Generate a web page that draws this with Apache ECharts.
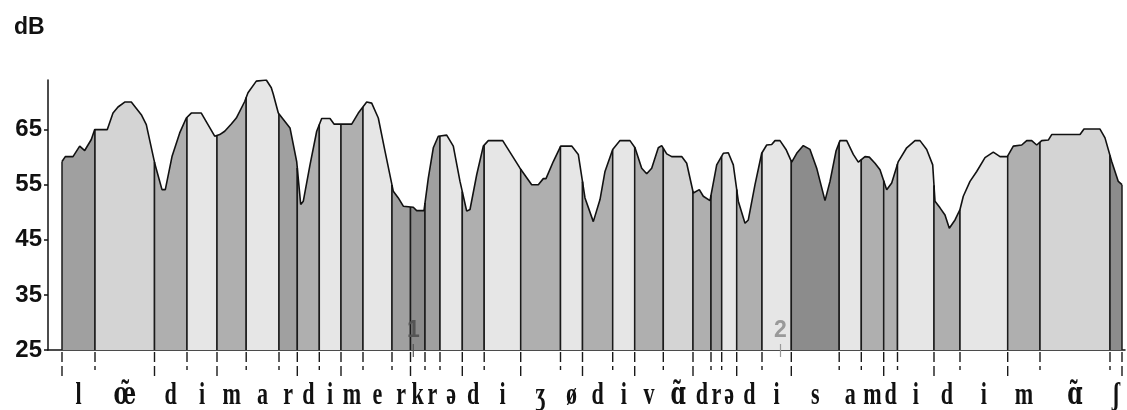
<!DOCTYPE html>
<html>
<head>
<meta charset="utf-8">
<script src="https://cdn.jsdelivr.net/npm/echarts@6/dist/echarts.min.js"></script>
<style>
html,body{margin:0;padding:0;background:#fff;}
#chart{width:1127px;height:410px;}
</style>
</head>
<body>
<div id="chart"></div>
<script>
// ---- DATA ----
// segment boundaries (time units)
const boundaries = [14, 47, 106.5, 139, 169, 198.2, 231, 249.3, 271.3, 293, 315, 344, 362.5, 377, 392,
  414.3, 436.2, 472.7, 512.5, 534.5, 564.7, 586.7, 615.3, 645, 663, 673.7, 688.7, 714, 743.3,
  791.2, 813.3, 835.7, 849.5, 886, 912, 959.7, 992, 1062, 1074];
// syllable-start boundaries (long ticks)
const syllableBounds = [14, 106.5, 169, 249.3, 293, 362.5, 414.3, 472.7, 534.5, 586.7, 645, 688.7,
  743.3, 835.7, 886, 959.7, 1074];
// phoneme labels, one per segment
const phonemes = ['l','œ̃','d','i','m','a','r','d','i','m','e','r','k','r','ə','d','i','ʒ','ø','d','i',
  'v','ɑ̃','d','r','ə','d','i','s','a','m','d','i','d','i','m','ɑ̃','ʃ'];
// phoneme class per segment (selects shade)
const segClass = ['liq','nas','stop','vow','stop','vow','liq','stop','vow','stop','vow','liq','vl','liq',
  'vow','stop','vow','stop','vow','stop','vow','stop','nas','stop','liq','vow','stop','vow','vl','vow',
  'stop','stop','vow','stop','vow','stop','nas','vl'];
// intensity contour
const contourTime = [14, 17.3, 25, 31.7, 36.7, 43.3, 46.7, 59.3, 65, 70, 76.7, 83.3, 93.3, 98.3, 106.7,
  114, 117.3, 124, 131.7, 138.3, 143.3, 153.3, 160, 166.7, 171.7, 176.7, 183.3, 188.3, 196.7, 200,
  208.3, 210, 218.3, 223.3, 225.3, 230.3, 242, 248.7, 252.7, 255.3, 262, 268.7, 273.7, 282, 286,
  303.7, 310.3, 318.7, 323.7, 330.3, 337, 345.3, 350.3, 355.3, 365.3, 368.7, 376, 380.3, 385.3,
  390.3, 398.7, 405.3, 412, 418.7, 422, 428.7, 435.3, 440.3, 454.7, 472, 483.7, 490.3, 495.3, 498,
  505.3, 512.7, 523.7, 530.3, 537, 545.3, 552, 557, 564.7, 572, 582, 587, 593.7, 598.7, 603.7,
  610.3, 613.7, 618.7, 623.7, 633.7, 638.7, 645.3, 651.3, 655.3, 662, 668.7, 675.3, 680.3, 685.3,
  690.3, 697, 700.3, 707, 713.7, 718.7, 723.7, 727, 732, 738, 743.7, 748.7, 755.3, 762, 768.7, 777,
  782, 788, 792, 798.7, 805.3, 810.3, 817, 821.3, 827, 832, 838.7, 843.7, 850.3, 858.7, 867, 872,
  878.7, 884.7, 887, 892, 897, 901.3, 907, 912, 915.3, 922, 928.7, 937, 945.3, 948.7, 952, 959.3,
  965.3, 973.7, 978.7, 983.7, 988.7, 993.7, 1000.3, 1003.7, 1032, 1036, 1052, 1057, 1063.7, 1070.3, 1074];
const contourDb = [59.2, 60.1, 60.1, 62.0, 61.2, 63.2, 65.0, 65.0, 68.0, 69.1, 70.0, 70.0, 67.7, 65.9, 58.9,
  54.1, 54.1, 60.1, 64.4, 67.1, 68.0, 68.0, 65.9, 63.8, 64.1, 64.7, 66.0, 67.1, 70.1, 71.7,
  73.8, 74.0, 74.0, 72.6, 71.4, 68.0, 65.3, 59.2, 51.4, 52.0, 58.6, 64.7, 67.0, 67.0, 66.0,
  66.0, 68.0, 70.0, 69.8, 67.1, 61.1, 53.8, 52.6, 51.1, 50.9, 50.3, 50.3, 56.2, 61.7,
  63.8, 64.0, 62.0, 55.6, 50.2, 50.5, 56.8, 62.0, 63.0, 63.0, 58.0, 55.0, 55.0, 56.1, 56.1,
  59.2, 62.0, 62.0, 60.5, 52.6, 48.3, 52.3, 57.4, 61.4, 63.0, 63.0, 61.7, 58.0, 57.0, 58.0,
  61.7, 62.1, 60.6, 60.1, 60.1, 58.9, 53.5, 54.1, 52.9, 52.1, 58.6, 60.7, 60.8, 58.6,
  52.0, 48.0, 48.6, 55.0, 60.7, 62.2, 62.3, 63.0, 63.0, 61.4, 59.1, 60.7, 62.1, 61.4, 58.0, 52.1,
  55.6, 61.1, 63.0, 63.0, 60.5, 59.1, 60.1, 60.0, 58.9, 57.7, 54.1, 55.3, 59.2, 61.7, 63.0, 63.0,
  61.4, 58.6, 52.0, 50.8, 49.5, 47.1, 48.6, 50.5, 52.9, 55.6, 57.4, 59.9, 60.9, 60.5, 60.1, 60.1,
  62.0, 62.2, 63.0, 63.0, 62.2, 63.0, 63.1, 64.1, 64.1, 65.1, 65.1, 63.5, 59.2, 55.6, 55.0];
// numbered markers
const markerTime = [365.3, 732.5];
const markerLabel = ['1', '2'];
// y axis
const yMin = 25, yMax = 74, yStep = 10;

// ---- STYLE ----
const shade = {vow:'#e6e6e6', nas:'#d4d4d4', stop:'#afafaf', liq:'#a0a0a0', vl:'#8c8c8c'};
const markerColor = ['#555555', '#999999'];

function contourAt(t){
  if (t <= contourTime[0]) return contourDb[0];
  for (let i = 1; i < contourTime.length; i++){
    if (t <= contourTime[i]){
      const a = contourTime[i-1], b = contourTime[i];
      const f = (t - a) / (b - a);
      return contourDb[i-1] + f * (contourDb[i] - contourDb[i-1]);
    }
  }
  return contourDb[contourDb.length-1];
}

const segData = phonemes.map((p, i) => [boundaries[i], boundaries[i+1], i]);

const chart = echarts.init(document.getElementById('chart'), null, {renderer:'canvas'});
chart.setOption({
  animation: false,
  backgroundColor: '#ffffff',
  title: {text:'dB', left: 9, top: 11,
    textStyle:{fontSize: 23, fontWeight:'bold', fontFamily:'Liberation Sans, Arial, sans-serif', color:'#111'}},
  grid: {left: 48, right: 2, top: 80, bottom: 60},
  xAxis: {type:'value', min: 0, max: 1077,
    axisLine:{show:true, onZero:false, lineStyle:{color:'#111', width:1.5}},
    axisTick:{show:false}, axisLabel:{show:false}, splitLine:{show:false}},
  yAxis: {type:'value', min: yMin, max: yMax, interval: yStep,
    axisLine:{show:true, lineStyle:{color:'#111', width:1.5}},
    axisTick:{show:true, length:4, lineStyle:{color:'#111', width:1.5}},
    axisLabel:{fontSize: 24, fontWeight:'bold', fontFamily:'Liberation Sans, Arial, sans-serif', color:'#111', margin: 6,
      showMaxLabel:false},
    splitLine:{show:false}},
  series: [
    {
      type:'custom', z: 2, clip: false,
      data: segData,
      renderItem: function(params, api){
        const t0 = api.value(0), t1 = api.value(1), idx = api.value(2);
        const pts = [];
        const base0 = api.coord([t0, yMin]);
        const base1 = api.coord([t1, yMin]);
        const top0 = api.coord([t0, contourAt(t0)]);
        const top1 = api.coord([t1, contourAt(t1)]);
        pts.push(base0, top0);
        for (let k = 0; k < contourTime.length; k++){
          if (contourTime[k] > t0 && contourTime[k] < t1) pts.push(api.coord([contourTime[k], contourDb[k]]));
        }
        pts.push(top1, base1);
        return {type:'group', children:[
          {type:'polygon', shape:{points:pts}, style:{fill: shade[segClass[idx]], stroke:null}},
          {type:'line', shape:{x1:base0[0], y1:base0[1], x2:top0[0], y2:top0[1]}, style:{stroke:'#1a1a1a', lineWidth:1.5}},
          {type:'line', shape:{x1:base1[0], y1:base1[1], x2:top1[0], y2:top1[1]}, style:{stroke:'#1a1a1a', lineWidth:1.5}}
        ]};
      }
    },
    {
      type:'line', z: 3, showSymbol:false, silent:true,
      data: contourTime.map((t, i) => [t, contourDb[i]]),
      lineStyle:{color:'#111', width:1.6}
    },
    {
      type:'custom', z: 4, clip: false,
      data: boundaries.map(b => [b]),
      renderItem: function(params, api){
        const t = api.value(0);
        const p = api.coord([t, yMin]);
        const isLong = syllableBounds.indexOf(t) >= 0;
        return {type:'line', shape:{x1:p[0], y1:p[1] + 2, x2:p[0], y2:p[1] + (isLong ? 30 : 20)},
          style:{stroke:'#1a1a1a', lineWidth:1.4, lineDash:[10,4]}};
      }
    },
    {
      type:'custom', z: 4, clip: false,
      data: segData,
      renderItem: function(params, api){
        const t0 = api.value(0), t1 = api.value(1), idx = api.value(2);
        const p = api.coord([(t0 + t1) / 2, yMin]);
        const txt = phonemes[idx];
        const combining = /[\u0300-\u036f]/.test(txt);
        return {type:'text', x: p[0], y: p[1] + 46, scaleX: 0.92, scaleY: 1.3,
          style:{text: txt, fontSize: 24, fontWeight:'bold',
            fontFamily: combining ? 'DejaVu Serif, serif' : 'Liberation Serif, DejaVu Serif, serif', fill:'#111',
            align:'center', verticalAlign:'middle'}};
      }
    },
    {
      type:'custom', z: 5, clip: false,
      data: markerTime.map((t, i) => [t, i]),
      renderItem: function(params, api){
        const t = api.value(0), i = api.value(1);
        const p = api.coord([t, yMin]);
        return {type:'group', children:[
          {type:'text', x: p[0], y: p[1] - 8, style:{text: markerLabel[i], fontSize: 23, fontWeight:'bold',
            fontFamily:'Liberation Sans, Arial, sans-serif', fill: markerColor[i], align:'center', verticalAlign:'bottom'}},
          {type:'line', shape:{x1:p[0], y1:p[1] - 6, x2:p[0], y2:p[1] + 7}, style:{stroke: markerColor[i], lineWidth:1.2}}
        ]};
      }
    }
  ]
});
</script>
</body>
</html>
